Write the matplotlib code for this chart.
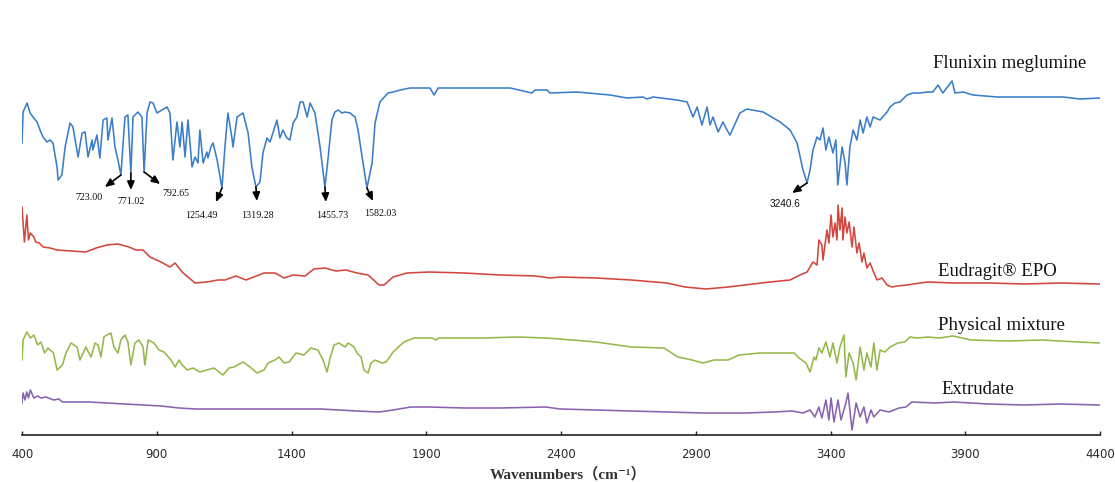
import numpy as np
import matplotlib
matplotlib.use("Agg")
import matplotlib.pyplot as plt

# ---------------- data (wavenumber, relative transmittance, a.u.) ----------------
flunixin_wn = [400, 404, 419, 430, 441, 456, 467, 478, 493, 504,
               515, 530, 534, 548, 560, 578, 589, 608, 623, 634,
               645, 660, 663, 678, 689, 701, 715, 719, 734, 745,
               756, 767, 782, 793, 804, 812, 830, 845, 853, 864,
               875, 886, 901, 919, 938, 949, 960, 975, 986, 994,
               1005, 1016, 1031, 1042, 1053, 1060, 1072, 1086, 1090, 1101,
               1109, 1124, 1142, 1153, 1164, 1179, 1183, 1198, 1220, 1239,
               1253, 1268, 1283, 1294, 1309, 1320, 1331, 1346, 1357, 1368,
               1383, 1394, 1406, 1420, 1432, 1443, 1458, 1469, 1487, 1506,
               1524, 1535, 1550, 1561, 1573, 1587, 1599, 1617, 1636, 1647,
               1662, 1680, 1699, 1710, 1728, 1758, 1777, 1803, 1840, 1914,
               1929, 1944, 2088, 2211, 2292, 2304, 2348, 2359, 2459, 2582,
               2645, 2704, 2719, 2741, 2830, 2868, 2890, 2905, 2923, 2942,
               2953, 2964, 2983, 3001, 3016, 3027, 3064, 3090, 3150, 3213,
               3250, 3276, 3298, 3313, 3324, 3335, 3350, 3361, 3372, 3383,
               3394, 3409, 3420, 3427, 3443, 3454, 3461, 3472, 3484, 3498,
               3510, 3521, 3535, 3547, 3558, 3584, 3610, 3621, 3639, 3658,
               3684, 3706, 3732, 3758, 3780, 3799, 3817, 3851, 3862, 3892,
               3929, 4018, 4077, 4203, 4263, 4326, 4400]
flunixin_t = [291, 322, 331, 321, 317, 312, 304, 297, 292, 294,
              291, 267, 254, 259, 287, 311, 307, 277, 301, 302,
              277, 294, 284, 299, 276, 314, 316, 294, 316, 287,
              274, 259, 317, 319, 261, 317, 322, 317, 262, 321,
              332, 331, 321, 324, 327, 321, 274, 312, 287, 312,
              277, 314, 267, 277, 271, 304, 271, 282, 276, 287,
              291, 274, 246, 287, 321, 296, 287, 317, 321, 301,
              267, 247, 252, 281, 296, 292, 301, 314, 296, 304,
              296, 294, 311, 317, 332, 332, 317, 331, 321, 287,
              247, 274, 314, 322, 324, 321, 322, 321, 317, 304,
              277, 246, 271, 311, 332, 341, 342, 344, 346, 346,
              339, 346, 346, 346, 341, 344, 344, 341, 342, 339,
              336, 337, 335, 337, 334, 332, 317, 327, 309, 327,
              309, 317, 302, 312, 304, 299, 321, 325, 322, 312,
              304, 291, 264, 251, 264, 284, 297, 294, 306, 284,
              297, 281, 294, 249, 287, 271, 249, 287, 304, 294,
              314, 301, 317, 307, 317, 314, 322, 327, 331, 332,
              339, 341, 341, 342, 342, 349, 341, 353, 341, 342,
              339, 337, 337, 337, 337, 335, 336]

eudragit_wn = [400, 409, 418, 424, 431, 444, 451, 464, 478, 504,
               530, 582, 637, 675, 715, 756, 797, 823, 849, 875,
               916, 949, 968, 994, 1042, 1086, 1127, 1153, 1194, 1231,
               1298, 1339, 1372, 1406, 1450, 1483, 1524, 1565, 1602, 1643,
               1684, 1725, 1743, 1777, 1828, 1910, 2040, 2174, 2307, 2359,
               2396, 2530, 2660, 2793, 2860, 2938, 3020, 3175, 3250, 3287,
               3313, 3335, 3350, 3357, 3368, 3372, 3387, 3394, 3402, 3409,
               3417, 3424, 3428, 3435, 3443, 3446, 3454, 3461, 3469, 3480,
               3487, 3498, 3506, 3517, 3524, 3535, 3547, 3561, 3573, 3591,
               3610, 3628, 3647, 3684, 3732, 3762, 3855, 3988, 4118, 4252,
               4400]
eudragit_t = [227, 192, 219, 194, 201, 197, 192, 191, 187, 186,
              184, 183, 182, 186, 189, 190, 187, 184, 184, 177,
              172, 167, 171, 162, 151, 152, 154, 154, 158, 154,
              161, 161, 156, 159, 158, 165, 166, 163, 164, 161,
              159, 149, 149, 157, 161, 162, 161, 159, 158, 156,
              157, 156, 154, 151, 147, 145, 147, 152, 154, 159,
              162, 172, 169, 194, 189, 174, 204, 191, 219, 197,
              211, 194, 229, 204, 226, 194, 217, 201, 212, 187,
              207, 181, 191, 172, 181, 166, 171, 161, 154, 156,
              149, 147, 148, 149, 151, 152, 151, 151, 150, 151,
              150]

mixture_wn = [400, 404, 418, 431, 444, 458, 470, 484, 496, 517,
              530, 550, 563, 582, 604, 615, 637, 656, 671, 682,
              693, 704, 715, 730, 741, 756, 767, 782, 793, 804,
              819, 834, 849, 856, 868, 890, 908, 927, 953, 968,
              983, 994, 1014, 1035, 1060, 1086, 1112, 1146, 1168, 1187,
              1220, 1246, 1272, 1298, 1313, 1339, 1354, 1372, 1391, 1417,
              1446, 1472, 1498, 1517, 1532, 1543, 1558, 1576, 1599, 1610,
              1632, 1643, 1658, 1669, 1684, 1695, 1710, 1736, 1751, 1777,
              1817, 1855, 1921, 1936, 1947, 2107, 2240, 2344, 2396, 2530,
              2660, 2782, 2834, 2886, 2927, 2968, 3020, 3061, 3138, 3231,
              3265, 3283, 3309, 3324, 3339, 3346, 3357, 3368, 3383, 3398,
              3409, 3424, 3435, 3450, 3457, 3469, 3484, 3495, 3510, 3524,
              3535, 3550, 3561, 3572, 3584, 3602, 3621, 3650, 3676, 3695,
              3721, 3762, 3803, 3855, 3921, 4051, 4185, 4318, 4400]
mixture_t = [74, 94, 102, 96, 99, 89, 92, 81, 86, 81,
             64, 69, 81, 91, 87, 74, 87, 77, 91, 89,
             77, 97, 99, 101, 87, 81, 94, 99, 92, 69,
             91, 94, 87, 69, 94, 91, 84, 82, 74, 67,
             74, 69, 64, 66, 62, 64, 66, 59, 66, 67,
             72, 67, 61, 64, 71, 74, 77, 71, 72, 81,
             79, 86, 84, 74, 62, 76, 89, 91, 87, 91,
             87, 81, 77, 64, 61, 71, 74, 71, 72, 82,
             92, 96, 96, 94, 96, 96, 97, 96, 95, 92,
             87, 86, 77, 74, 71, 74, 74, 79, 81, 81,
             81, 76, 71, 62, 77, 74, 86, 81, 92, 77,
             91, 71, 87, 99, 57, 81, 71, 54, 87, 64,
             81, 67, 91, 64, 84, 82, 87, 91, 92, 97,
             96, 97, 96, 98, 94, 93, 94, 92, 91]

extrudate_wn = [400, 404, 411, 418, 424, 431, 444, 458, 470, 489,
                517, 537, 550, 582, 649, 715, 782, 849, 916, 983,
                1046, 1138, 1246, 1380, 1509, 1643, 1725, 1777, 1843, 1910,
                2040, 2174, 2344, 2396, 2660, 2927, 3086, 3190, 3257, 3298,
                3324, 3342, 3357, 3368, 3383, 3394, 3402, 3413, 3428, 3439,
                3457, 3465, 3480, 3495, 3510, 3524, 3535, 3550, 3561, 3584,
                3617, 3654, 3680, 3702, 3788, 3855, 3988, 4118, 4252, 4400]
extrudate_t = [31, 41, 34, 42, 36, 44, 36, 38, 36, 37,
               34, 35, 32, 32, 32, 31, 30, 29, 28, 26,
               25, 25, 25, 25, 25, 23, 22, 24, 27, 27,
               26, 26, 27, 25, 23, 21, 21, 22, 23, 21,
               24, 17, 27, 16, 34, 14, 36, 12, 34, 14,
               31, 41, 4, 31, 17, 27, 11, 24, 17, 24,
               22, 26, 27, 32, 31, 32, 30, 29, 30, 29]

series_names = ["Flunixin meglumine", "Eudragit\u00ae EPO", "Physical mixture", "Extrudate"]
series_colors = ["#3b7dc8", "#d2473d", "#95b84b", "#8a63ae"]

peak_labels = ["723.00", "771.02", "792.65", "1254.49", "1319.28", "1455.73", "1582.03", "3240.6"]
peak_pos = [767, 804, 853, 1142, 1268, 1524, 1680, 3313]   # band positions on the plotted trace

x_ticks = [400, 900, 1400, 1900, 2400, 2900, 3400, 3900, 4400]

# ---------------- figure ----------------
W, H = 1115, 482
fig = plt.figure(figsize=(W / 100, H / 100), dpi=100)
ax = fig.add_axes([22 / W, 47 / H, 1078 / W, 435 / H])

series = [(flunixin_wn, flunixin_t), (eudragit_wn, eudragit_t),
          (mixture_wn, mixture_t), (extrudate_wn, extrudate_t)]
for (xs, ys), col in zip(series, series_colors):
    ax.plot(xs, ys, color=col, lw=1.15, solid_joinstyle="round")

ax.set_xlim(400, 4400)
ax.set_ylim(-1, 434)
ax.set_xticks(x_ticks)
ax.set_xticklabels([str(t) for t in x_ticks], fontsize=8.5, family="DejaVu Sans", color="#2a2a2a")
ax.tick_params(axis="x", direction="in", length=3, width=1.0, pad=9, color="#222222")
ax.set_yticks([])
for s in ("left", "right", "top"):
    ax.spines[s].set_visible(False)
ax.spines["bottom"].set_linewidth(1.2)
ax.spines["bottom"].set_color("#222222")

# series labels
label_pos = [(3780, 371), (3799, 163), (3799, 109), (3810, 45)]
for name, (lx, ly) in zip(series_names, label_pos):
    ax.text(lx, ly, name, fontsize=13.5, family="Liberation Serif",
            ha="left", va="center", color="#111111")

# peak annotations (arrow from band towards label)
arrow_off = [(-16, -12), (0, -17), (16, -12), (-6, -14), (1, -14), (1, -15), (6, -13), (-15, -10)]
text_off = [(-32, -22), (0, -28), (32, -21), (-21, -27), (1, -28), (7, -29), (13, -25), (-22, -21)]
for lab, px, ao, to in zip(peak_labels, peak_pos, arrow_off, text_off):
    py = float(np.interp(px, flunixin_wn, flunixin_t))
    ax.annotate("", xy=(px, py), xycoords="data",
                xytext=ao, textcoords="offset pixels",
                arrowprops=dict(arrowstyle="<|-,head_length=0.5,head_width=0.22",
                                color="black", lw=1.2, shrinkA=0, shrinkB=0))
    fam = "Liberation Sans" if lab == "3240.6" else "Liberation Serif"
    ax.annotate(lab, xy=(px, py), xycoords="data", xytext=to,
                textcoords="offset pixels", ha="center", va="center",
                fontsize=7.2, family=fam, color="#111111")

fig.text(568 / W, 1 - 474 / H, "Wavenumbers\uff08cm\u207b\u00b9\uff09",
         ha="center", va="center", fontsize=11, fontweight="bold",
         family=["Liberation Serif", "DejaVu Serif", "Noto Sans CJK SC"], color="#333333")

fig.savefig("out.png", dpi=100)
